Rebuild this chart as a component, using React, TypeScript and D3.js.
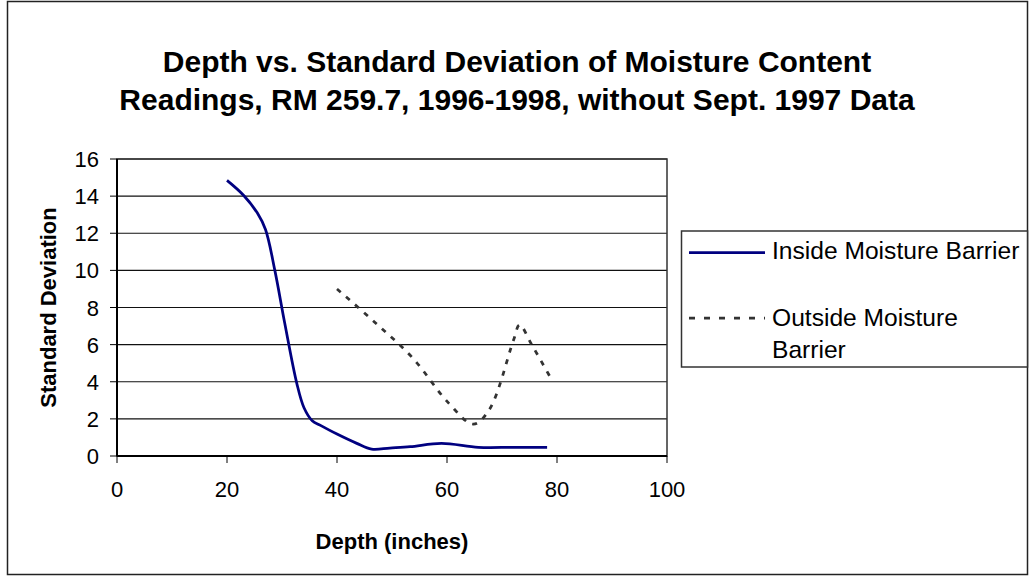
import React from "react";
import * as d3 from "d3";

const titleLines = [
  "Depth vs. Standard Deviation of Moisture Content",
  "Readings, RM 259.7, 1996-1998, without Sept. 1997 Data",
];
const xTicks = [0, 20, 40, 60, 80, 100];
const yTicks = [0, 2, 4, 6, 8, 10, 12, 14, 16];

const insideDepth = [20, 23, 25.5, 27, 28.7, 30.5, 32.7, 34, 35.5, 37, 40, 43.6, 46.3, 49.6, 53.3, 59, 65.7, 72, 78.2];
const insideSD = [14.85, 14.05, 13.1, 12.2, 10.0, 7.15, 3.9, 2.6, 1.9, 1.65, 1.18, 0.68, 0.37, 0.43, 0.5, 0.68, 0.47, 0.47, 0.47];

const outsideDepth = [40, 46.7, 53.7, 60.3, 64.8, 67.7, 72.1, 73.2, 75.4, 79];
const outsideSD = [9.0, 7.25, 5.3, 2.85, 1.72, 2.5, 6.25, 7.06, 6.0, 4.13];

const seriesNames = ["Inside Moisture Barrier", "Outside Moisture", "Barrier"];

const FONT = "'Liberation Sans', Arial, Helvetica, sans-serif";

export default function App() {
  const W = 1030;
  const H = 576;
  const left = 117, right = 667, top = 159, bottom = 456;
  const x = d3.scaleLinear().domain([0, 100]).range([left, right]);
  const y = d3.scaleLinear().domain([0, 16]).range([bottom, top]);

  const line = d3
    .line<[number, number]>()
    .x((d) => x(d[0]))
    .y((d) => y(d[1]))
    .curve(d3.curveCatmullRom.alpha(0.5));

  const insidePts = insideDepth.map((d, i) => [d, insideSD[i]] as [number, number]);
  const outsidePts = outsideDepth.map((d, i) => [d, outsideSD[i]] as [number, number]);

  return (
    <svg
      width={W}
      height={H}
      style={{ position: "absolute", left: 0, top: 0, display: "block", background: "#fff" }}
      fontFamily={FONT}
    >
      <rect x={0} y={0} width={W} height={H} fill="#fff" />
      {/* chart border */}
      <rect x={7.5} y={1.5} width={1020} height={573} fill="none" stroke="#222" strokeWidth={1.5} />

      {/* title */}
      {titleLines.map((t, i) => (
        <text
          key={i}
          x={517}
          y={72 + i * 38}
          textAnchor="middle"
          fontSize={30}
          fontWeight="bold"
          fill="#000"
        >
          {t}
        </text>
      ))}

      {/* gridlines */}
      {yTicks.map((t) => (
        <line key={"g" + t} x1={left} x2={right} y1={y(t)} y2={y(t)} stroke="#111" strokeWidth={1.2} />
      ))}

      {/* plot border */}
      <rect x={left} y={top} width={right - left} height={bottom - top} fill="none" stroke="#333" strokeWidth={1.5} />

      {/* axes */}
      <line x1={left} x2={left} y1={top} y2={bottom} stroke="#000" strokeWidth={2} />
      <line x1={left} x2={right} y1={bottom} y2={bottom} stroke="#000" strokeWidth={2} />

      {/* y ticks */}
      {yTicks.map((t) => (
        <g key={"yt" + t}>
          <line x1={left - 7} x2={left} y1={y(t)} y2={y(t)} stroke="#000" strokeWidth={1} />
          <text x={99} y={y(t) + 8} textAnchor="end" fontSize={22} fill="#000">
            {t}
          </text>
        </g>
      ))}

      {/* x ticks */}
      {xTicks.map((t) => (
        <g key={"xt" + t}>
          <line x1={x(t)} x2={x(t)} y1={bottom} y2={bottom + 7} stroke="#000" strokeWidth={1} />
          <text x={x(t)} y={497} textAnchor="middle" fontSize={22} fill="#000">
            {t}
          </text>
        </g>
      ))}

      {/* axis titles */}
      <text x={(left + right) / 2} y={549} textAnchor="middle" fontSize={22} fontWeight="bold" fill="#000">
        Depth (inches)
      </text>
      <text
        transform={`translate(56, ${(top + bottom) / 2}) rotate(-90)`}
        textAnchor="middle"
        fontSize={22}
        fontWeight="bold"
        fill="#000"
      >
        Standard Deviation
      </text>

      {/* series */}
      <path d={line(insidePts) || ""} fill="none" stroke="#000080" strokeWidth={2.75} />
      <path
        d={line(outsidePts) || ""}
        fill="none"
        stroke="#333"
        strokeWidth={2.75}
        strokeDasharray="5,7"
      />

      {/* legend */}
      <rect x={681.5} y={231} width={346} height={136} fill="#fff" stroke="#333" strokeWidth={1.5} />
      <line x1={689} x2={765} y1={252.5} y2={252.5} stroke="#000080" strokeWidth={2.75} />
      <text x={772} y={259} fontSize={24.6} fill="#000">
        {seriesNames[0]}
      </text>
      <line x1={689} x2={765} y1={318} y2={318} stroke="#333" strokeWidth={2.75} strokeDasharray="6,9" />
      <text x={772} y={326} fontSize={24.6} fill="#000">
        {seriesNames[1]}
      </text>
      <text x={772} y={358} fontSize={24.6} fill="#000">
        {seriesNames[2]}
      </text>
    </svg>
  );
}
